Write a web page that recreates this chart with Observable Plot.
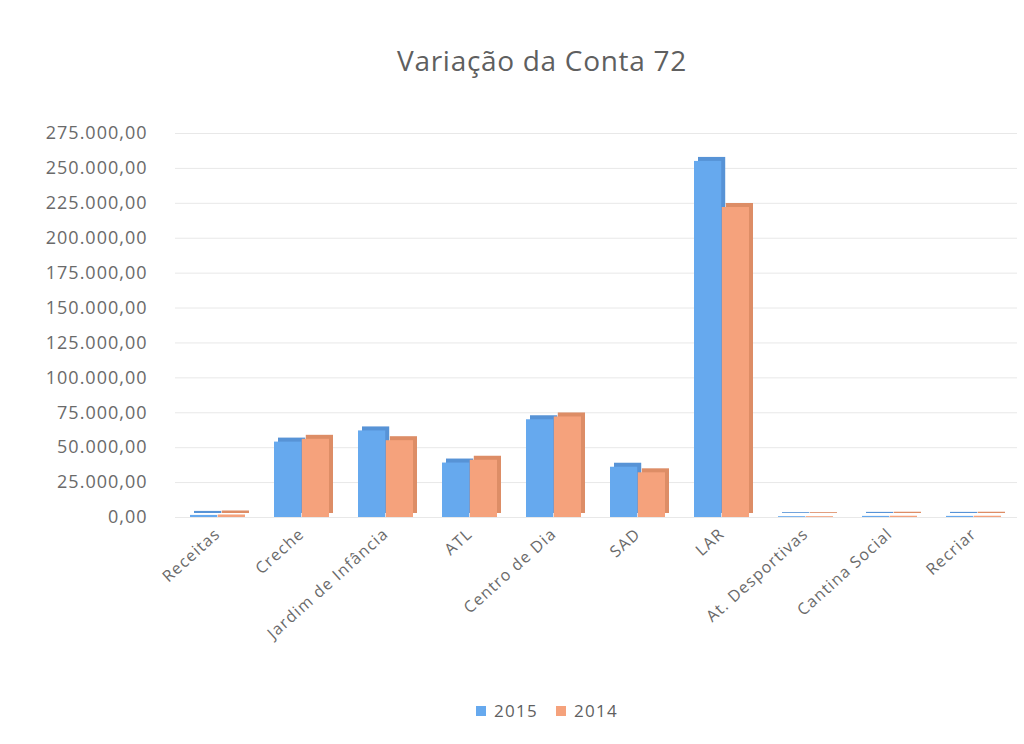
<!DOCTYPE html>
<html>
<head>
<meta charset="utf-8">
<script src="https://cdn.jsdelivr.net/npm/d3@7"></script>
<script src="https://cdn.jsdelivr.net/npm/@observablehq/plot@0.6"></script>
<style>
  body { margin: 0; background: #fff; font-family: "Open Sans", sans-serif; }
  #wrap { position: relative; width: 1024px; height: 744px; overflow: hidden; }
  #title { position: absolute; left: 0; top: 41px; width: 1024px; padding-left: 60px; box-sizing: border-box; text-align: center; font-size: 28px; color: #5f5f5f; letter-spacing: 0.7px; }
  #chart { position: absolute; left: 0; top: 100px; }
  #legend { position: absolute; left: 0; top: 699px; width: 1024px; padding-left: 70px; box-sizing: border-box; text-align: center; font-size: 17px; color: #5f5f5f; letter-spacing: 1.3px; }
  #legend span.sw { display: inline-block; width: 10px; height: 10px; margin-right: 8px; vertical-align: 1px; }
  #legend span.item { margin: 0 9px; }
  #chart g[aria-label="y-axis tick label"] text { letter-spacing: 1px; }
  #chart g[aria-label="x-axis tick label"] text { letter-spacing: 1.2px; }
</style>
</head>
<body>
<div id="wrap">
  <div id="title">Variação da Conta 72</div>
  <div id="chart"></div>
  <div id="legend"></div>
</div>
<script>
const categories = ["Receitas", "Creche", "Jardim de Infância", "ATL", "Centro de Dia", "SAD", "LAR", "At. Desportivas", "Cantina Social", "Recriar"];
const years = ["2015", "2014"];
const values2015 = [1500, 54000, 62000, 39000, 70000, 36000, 255000, 600, 800, 800];
const values2014 = [1800, 56000, 55000, 41000, 72000, 32000, 222000, 600, 900, 900];
const yTicks = [0, 25000, 50000, 75000, 100000, 125000, 150000, 175000, 200000, 225000, 250000, 275000];
const colors = ["#66a9ee", "#f5a27c"];
const sideColors = ["#5793d6", "#dd8d66"];

const locale = d3.formatLocale({decimal: ",", thousands: ".", grouping: [3], currency: ["", "€"]});
const fmt = locale.format(",.2f");

const data = [];
categories.forEach((c, i) => {
  data.push({cat: c, year: "2015", value: values2015[i]});
  data.push({cat: c, year: "2014", value: values2014[i]});
});
const d15 = data.filter(d => d.year === "2015");
const d14 = data.filter(d => d.year === "2014");

const width = 1024, height = 590;
const marginLeft = 175, marginRight = 7, marginTop = 33, marginBottom = 173;
const xOpts = {type: "band", domain: categories, paddingInner: 0.34, paddingOuter: 0.17};
let bw;
try {
  bw = Plot.scale({x: {...xOpts, range: [marginLeft, width - marginRight]}}).bandwidth;
} catch (e) {}
if (!bw) {
  const step = (width - marginLeft - marginRight) / (categories.length - 0.34 + 0.34);
  bw = step * 0.66;
}
const half = bw / 2;
const depth = 4;

const chart = Plot.plot({
  width, height, marginLeft, marginRight, marginTop, marginBottom,
  style: {fontFamily: "Open Sans, sans-serif", fontSize: "16px", color: "#6a6a6a", background: "#fff"},
  x: {...xOpts, label: null},
  y: {domain: [0, 275000], label: null},
  marks: [
    Plot.ruleY(yTicks, {stroke: "#e8e8e8", strokeWidth: 1}),
    // depth (3D side/top) faces
    Plot.barY(d15, {x: "cat", y: "value", fill: sideColors[0], insetRight: half, dx: depth, dy: -depth}),
    Plot.barY(d14, {x: "cat", y: "value", fill: sideColors[1], insetLeft: half, dx: depth, dy: -depth}),
    // front faces
    Plot.barY(d15, {x: "cat", y: "value", fill: colors[0], insetRight: half}),
    Plot.barY(d14, {x: "cat", y: "value", fill: colors[1], insetLeft: half}),
    Plot.axisY({ticks: yTicks, tickFormat: fmt, tickSize: 0, tickPadding: 28, fontSize: 18}),
    Plot.axisX({tickRotate: -42, tickSize: 0, tickPadding: 14, fontSize: 16})
  ]
});
document.getElementById("chart").appendChild(chart);

const legend = document.getElementById("legend");
years.forEach((y, i) => {
  const item = document.createElement("span");
  item.className = "item";
  const sw = document.createElement("span");
  sw.className = "sw";
  sw.style.background = colors[i];
  item.appendChild(sw);
  item.appendChild(document.createTextNode(y));
  legend.appendChild(item);
});
</script>
</body>
</html>
